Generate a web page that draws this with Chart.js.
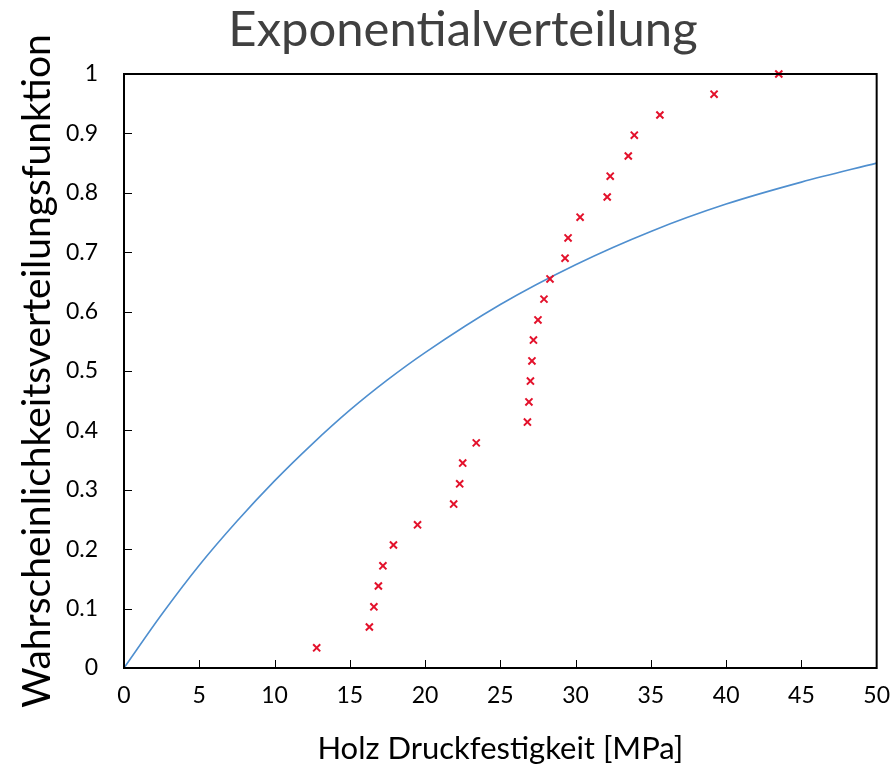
<!DOCTYPE html>
<html>
<head>
<meta charset="utf-8">
<script src="https://cdn.jsdelivr.net/npm/chart.js@4"></script>
<style>
  html, body { margin: 0; padding: 0; background: #fff; }
  #wrap { width: 896px; height: 768px; }
</style>
</head>
<body>
<div id="wrap"><canvas id="chart" width="896" height="768"></canvas></div>
<script>
// measured strength values and their empirical probabilities
const strengthX = [12.8, 16.3, 16.6, 16.9, 17.2, 17.9, 19.5, 21.9, 22.3, 22.5,
  23.4, 26.8, 26.9, 27.0, 27.1, 27.2, 27.5, 27.9, 28.3, 29.3,
  29.5, 30.3, 32.1, 32.3, 33.5, 33.9, 35.6, 39.2, 43.5];
const strengthP = [0.034, 0.069, 0.103, 0.138, 0.172, 0.207, 0.241, 0.276, 0.310, 0.345,
  0.379, 0.414, 0.448, 0.483, 0.517, 0.552, 0.586, 0.621, 0.655, 0.690,
  0.724, 0.759, 0.793, 0.828, 0.862, 0.897, 0.931, 0.966, 1.0];

// fitted exponential CDF
const curveX = [0, 2.5, 5, 7.5, 10, 12.5, 15, 17.5, 20, 25, 30, 35, 40, 45, 50];
const curveY = [0, 0.09, 0.173, 0.247, 0.315, 0.377, 0.434, 0.485, 0.531, 0.612, 0.679, 0.735, 0.781, 0.818, 0.850];

const xTicks = [0, 5, 10, 15, 20, 25, 30, 35, 40, 45, 50];
const yTicks = [0, 0.1, 0.2, 0.3, 0.4, 0.5, 0.6, 0.7, 0.8, 0.9, 1];
const yTickLabels = ["0", "0.1", "0.2", "0.3", "0.4", "0.5", "0.6", "0.7", "0.8", "0.9", "1"];

const FONT = "Lato";

const framePlugin = {
  id: "frame",
  afterDatasetsDraw(chart) {
    const { ctx, chartArea: a, scales } = chart;
    ctx.save();
    ctx.strokeStyle = "#000";
    ctx.lineWidth = 2;
    ctx.strokeRect(a.left, a.top, a.right - a.left, a.bottom - a.top);
    ctx.lineWidth = 1;
    ctx.beginPath();
    xTicks.slice(1, -1).forEach((v) => {
      const px = Math.round(scales.x.getPixelForValue(v)) + 0.5;
      ctx.moveTo(px, a.bottom);
      ctx.lineTo(px, a.bottom - 8);
    });
    yTicks.slice(1, -1).forEach((v) => {
      const py = Math.round(scales.y.getPixelForValue(v)) + 0.5;
      ctx.moveTo(a.left, py);
      ctx.lineTo(a.left + 8, py);
    });
    ctx.stroke();
    // title
    ctx.fillStyle = "#404040";
    ctx.font = "49px " + FONT;
    ctx.textAlign = "center";
    ctx.textBaseline = "middle";
    ctx.fillText("Exponentialverteilung", 463, 30);
    ctx.restore();
  },
};

new Chart(document.getElementById("chart"), {
  type: "scatter",
  data: {
    datasets: [
      {
        label: "Messwerte",
        data: strengthX.map((x, i) => ({ x, y: strengthP[i] })),
        pointStyle: "crossRot",
        pointRadius: 5,
        pointBorderWidth: 2,
        borderColor: "#e3112b",
        backgroundColor: "#e3112b",
        clip: false,
      },
      {
        label: "Exponentialverteilung",
        type: "line",
        data: curveX.map((x, i) => ({ x, y: curveY[i] })),
        borderColor: "#4f8fcf",
        borderWidth: 1.6,
        pointRadius: 0,
        cubicInterpolationMode: "monotone",
        fill: false,
      },
    ],
  },
  options: {
    responsive: false,
    animation: false,
    layout: { padding: { top: 74, right: 19, left: 0, bottom: 0 } },
    plugins: {
      legend: { display: false },
      tooltip: { enabled: false },
    },
    scales: {
      x: {
        type: "linear",
        min: 0,
        max: 50,
        afterFit: (s) => { s.height = 100; },
        afterBuildTicks: (s) => { s.ticks = xTicks.map((v) => ({ value: v })); },
        grid: { display: false },
        border: { display: false },
        ticks: { color: "#000", font: { family: FONT, size: 23 }, padding: 6 },
        title: {
          display: true,
          text: "Holz Druckfestigkeit [MPa]",
          color: "#000",
          font: { family: FONT, size: 31 },
          padding: { top: 16, bottom: 0 },
        },
      },
      y: {
        type: "linear",
        min: 0,
        max: 1,
        afterFit: (s) => { s.width = 124; },
        afterBuildTicks: (s) => { s.ticks = yTicks.map((v) => ({ value: v })); },
        grid: { display: false },
        border: { display: false },
        ticks: {
          color: "#000",
          font: { family: FONT, size: 23 },
          padding: 18,
          callback: (v, i) => yTickLabels[i],
        },
        title: {
          display: true,
          text: "Wahrscheinlichkeitsverteilungsfunktion",
          color: "#000",
          font: { family: FONT, size: 39 },
          padding: { top: 14, bottom: 0 },
        },
      },
    },
  },
  plugins: [framePlugin],
});
</script>
</body>
</html>
